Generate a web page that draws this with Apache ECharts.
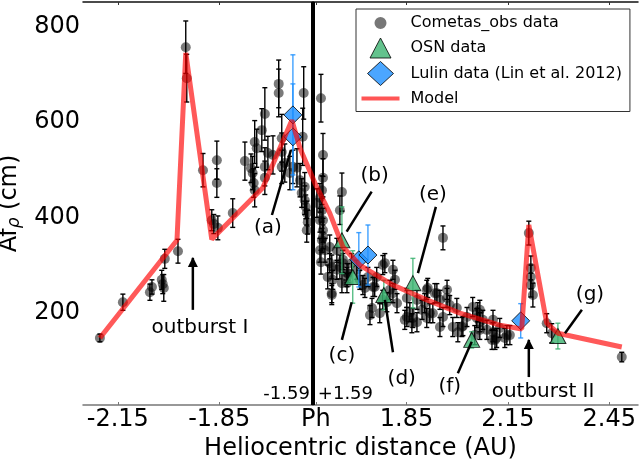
<!DOCTYPE html>
<html>
<head>
<meta charset="utf-8">
<script src="https://cdn.jsdelivr.net/npm/echarts@6/dist/echarts.min.js"></script>
<style>
html, body { margin: 0; padding: 0; background: #fff; }
#chart { width: 639px; height: 467px; }
</style>
</head>
<body>
<div id="chart"></div>
<script>
// folded axis: pre-perihelion on the left (negative), post-perihelion on the right
const R_FOLD = 1.573; // 1.59 AU minus half of the gap around the perihelion line

const xTickLabels = ['-2.15', '-1.85', 'Ph', '1.85', '2.15', '2.45'];
const yTickValues = [200, 400, 600, 800];

// [signed heliocentric distance (AU), Afrho (cm), error]
const cometasObs = [
  [-2.203, 147, 8], [-2.135, 222, 17], [-2.055, 243, 17], [-2.049, 254, 15], [-2.020, 269, 20],
  [-2.017, 260, 20], [-2.014, 252, 28], [-2.011, 313, 20], [-1.972, 329, 25], [-1.949, 757, 55],
  [-1.946, 692, 50], [-1.898, 499, 35], [-1.857, 520, 40], [-1.857, 472, 30], [-1.872, 394, 22],
  [-1.866, 386, 20], [-1.854, 378, 25], [-1.810, 409, 30], [-1.774, 518, 40], [-1.756, 503, 30],
  [-1.751, 493, 35], [-1.748, 472, 30], [-1.745, 558, 45], [-1.745, 457, 35], [-1.739, 545, 40],
  [-1.724, 583, 45], [-1.715, 617, 55], [-1.715, 506, 40], [-1.715, 483, 35], [-1.706, 535, 35],
  [-1.691, 531, 40], [-1.674, 680, 50], [-1.674, 661, 50], [-1.665, 566, 50], [-1.665, 537, 40],
  [-1.665, 506, 35], [-1.656, 514, 40], [-1.641, 493, 35], [-1.632, 506, 35], [-1.620, 504, 40],
  [-1.611, 478, 35], [-1.606, 451, 30], [-1.603, 569, 60], [-1.600, 661, 55], [-1.597, 464, 30],
  [-1.597, 436, 30], [-1.594, 422, 25], [-1.591, 409, 25], [-1.588, 390, 25], [-1.591, 373, 25],
  [1.597, 650, 50], [1.603, 531, 45], [1.603, 483, 40], [1.585, 430, 30], [1.600, 457, 30],
  [1.594, 441, 30], [1.600, 415, 25], [1.594, 394, 25], [1.603, 394, 25], [1.603, 373, 25],
  [1.603, 359, 25], [1.600, 352, 25], [1.594, 331, 25], [1.609, 331, 25], [1.597, 306, 25],
  [1.623, 338, 25], [1.623, 304, 20], [1.629, 296, 25], [1.617, 275, 25], [1.632, 269, 20],
  [1.629, 241, 20], [1.629, 237, 20], [1.644, 331, 25], [1.644, 290, 20], [1.653, 296, 25],
  [1.653, 415, 30], [1.659, 453, 40], [1.659, 262, 20], [1.662, 304, 20], [1.662, 311, 20],
  [1.674, 275, 20], [1.674, 283, 20], [1.674, 262, 20], [1.677, 283, 20], [1.688, 304, 20],
  [1.703, 290, 20], [1.712, 269, 20], [1.721, 258, 20], [1.727, 252, 20], [1.736, 275, 20],
  [1.742, 195, 20], [1.748, 210, 20], [1.751, 254, 20], [1.756, 254, 20], [1.762, 275, 20],
  [1.771, 199, 20], [1.780, 300, 20], [1.780, 227, 20], [1.786, 304, 20], [1.792, 222, 20],
  [1.801, 248, 20], [1.810, 290, 20], [1.810, 241, 20], [1.816, 269, 20], [1.822, 220, 20],
  [1.845, 185, 20], [1.851, 231, 20], [1.851, 191, 20], [1.860, 201, 20], [1.866, 178, 20],
  [1.869, 189, 20], [1.881, 227, 20], [1.881, 180, 20], [1.896, 206, 20], [1.904, 220, 20],
  [1.910, 248, 20], [1.910, 189, 20], [1.913, 252, 20], [1.919, 199, 20], [1.928, 199, 20],
  [1.934, 241, 20], [1.940, 241, 20], [1.949, 227, 20], [1.949, 170, 20], [1.958, 357, 25],
  [1.958, 191, 20], [1.970, 248, 20], [1.970, 231, 20], [1.978, 216, 20], [1.987, 170, 20],
  [1.999, 210, 20], [2.002, 159, 20], [2.014, 170, 20], [2.017, 172, 20], [2.029, 191, 20],
  [2.046, 212, 20], [2.052, 153, 20], [2.058, 189, 20], [2.061, 201, 20], [2.067, 206, 20],
  [2.067, 180, 20], [2.067, 164, 20], [2.076, 185, 20], [2.088, 164, 20], [2.103, 143, 20],
  [2.106, 185, 20], [2.106, 159, 20], [2.112, 143, 20], [2.117, 147, 20], [2.126, 168, 20],
  [2.141, 147, 20], [2.147, 153, 20], [2.156, 153, 20],
  [2.212, 367, 25], [2.218, 294, 25], [2.218, 275, 25], [2.218, 258, 25], [2.224, 237, 25],
  [2.265, 178, 20], [2.280, 157, 20], [2.487, 107, 10]
];

const osnData = [
  [1.659, 352, 70], [1.691, 275, 55], [1.783, 237, 31], [1.869, 262, 52], [2.043, 143, 17], [2.298, 151, 27]
];

const lulinData = [
  [-1.632, 615, 126], [-1.632, 569, 111], [1.709, 311, 57], [1.736, 321, 63], [2.188, 183, 36]
];

const modelCurve = [
  [-2.203, 147], [-1.975, 352], [-1.949, 745], [-1.872, 354], [-1.721, 462], [-1.635, 604],
  [-1.611, 545], [1.579, 472], [1.623, 409], [1.662, 338], [1.712, 300], [1.810, 258],
  [1.910, 227], [2.008, 199], [2.126, 174], [2.191, 166], [2.212, 384], [2.265, 178],
  [2.298, 157], [2.487, 128]
];

// annotations: text centre, pointer start, pointer end
const letterNotes = [
  { text: '(a)', at: [-1.706, 378], from: [-1.694, 405], to: [-1.638, 541] },
  { text: '(b)', at: [1.756, 487], from: [1.747, 454], to: [1.673, 370] },
  { text: '(c)', at: [1.659, 109], from: [1.659, 143], to: [1.688, 222] },
  { text: '(d)', at: [1.836, 61], from: [1.810, 117], to: [1.786, 227] },
  { text: '(e)', at: [1.928, 447], from: [1.937, 422], to: [1.884, 283] },
  { text: '(f)', at: [1.978, 44], from: [2.002, 73], to: [2.043, 139] },
  { text: '(g)', at: [2.393, 237], from: [2.369, 206], to: [2.319, 157] }
];
const outburstNotes = [
  { text: 'outburst I', at: [-1.907, 168], from: [-1.928, 206], to: [-1.928, 315] },
  { text: 'outburst II', at: [2.254, 34], from: [2.212, 65], to: [2.212, 143] }
];

const X_MIN = -0.680, X_MAX = 0.962;
const Y_MIN = 6.4, Y_MAX = 851.8;
const FONT = 'DejaVu Sans';

function toU(r) {
  if (r === 0) return 0;
  return Math.sign(r) * (Math.abs(r) - R_FOLD);
}
function tickU(label) {
  if (label === 'Ph') return 0.009;
  return toU(parseFloat(label));
}
const xTickValues = xTickLabels.map(tickU);

function pts(arr) { return arr.map(d => [toU(d[0]), d[1]]); }
function bars(arr) { return arr.map(d => [toU(d[0]), d[1] - d[2], d[1] + d[2]]); }

function errRender(color) {
  return function (params, api) {
    const p1 = api.coord([api.value(0), api.value(1)]);
    const p2 = api.coord([api.value(0), api.value(2)]);
    const cap = 2.5;
    const style = { stroke: color, lineWidth: 1.4, fill: null };
    return {
      type: 'group',
      children: [
        { type: 'line', shape: { x1: p1[0], y1: p1[1], x2: p2[0], y2: p2[1] }, style: style },
        { type: 'line', shape: { x1: p1[0] - cap, y1: p1[1], x2: p1[0] + cap, y2: p1[1] }, style: style },
        { type: 'line', shape: { x1: p2[0] - cap, y1: p2[1], x2: p2[0] + cap, y2: p2[1] }, style: style }
      ]
    };
  };
}

const BOX = 'path://M0,0M45,24';
const icons = {
  circle: BOX + 'M20,6a6,6 0 1,1 -0.01,0z',
  triangle: BOX + 'M20,2L30.5,22L9.5,22Z',
  diamond: BOX + 'M20,0L33,12L20,24L7,12Z',
  line: BOX + 'M1,10h38v4h-38z'
};

const GRAY = 'rgba(0,0,0,0.65)';
const GREEN = '#3cb371';
const BLUE = '#1e90ff';
const RED = 'rgba(255,0,0,0.65)';

const chart = echarts.init(document.getElementById('chart'));

const option = {
  animation: false,
  textStyle: { fontFamily: FONT },
  grid: { left: 83, right: 1, top: 2, bottom: 62, containLabel: false, outerBoundsMode: 'none' },
  legend: {
    orient: 'vertical',
    left: 356,
    top: 9,
    padding: [2, 8, 1, 4],
    itemGap: 0.5,
    itemWidth: 45,
    itemHeight: 24,
    borderColor: '#333',
    borderWidth: 1,
    selectedMode: false,
    textStyle: { fontFamily: FONT, fontSize: 16, color: '#000' },
    data: [
      { name: 'Cometas_obs data', icon: icons.circle, itemStyle: { color: '#555', borderWidth: 0 } },
      { name: 'OSN data', icon: icons.triangle, itemStyle: { color: GREEN, borderColor: '#000', borderWidth: 1 } },
      { name: 'Lulin data (Lin et al. 2012)', icon: icons.diamond, itemStyle: { color: BLUE, borderColor: '#000', borderWidth: 1 } },
      { name: 'Model', icon: icons.line, itemStyle: { color: '#ff5555', borderWidth: 0 } }
    ]
  },
  xAxis: [
    {
      type: 'value',
      min: X_MIN,
      max: X_MAX,
      name: 'Heliocentric distance (AU)',
      nameLocation: 'middle',
      nameGap: 28,
      nameTextStyle: { fontFamily: FONT, fontSize: 24, color: '#000' },
      axisLine: { lineStyle: { color: '#777', width: 1.5 } },
      axisTick: { inside: true, length: 3, customValues: xTickValues, lineStyle: { color: '#777' } },
      axisLabel: {
        customValues: xTickValues,
        margin: 3,
        fontFamily: FONT,
        fontSize: 24,
        color: '#000',
        formatter: function (v) {
          const i = xTickValues.findIndex(t => Math.abs(t - v) < 1e-6);
          return i >= 0 ? xTickLabels[i] : '';
        }
      },
      splitLine: { show: false }
    },
    {
      type: 'value',
      position: 'top',
      min: X_MIN,
      max: X_MAX,
      axisLine: { lineStyle: { color: '#111', width: 1.5 } },
      axisTick: { inside: true, length: 3, customValues: xTickValues, lineStyle: { color: '#333' } },
      axisLabel: { show: false },
      splitLine: { show: false }
    }
  ],
  yAxis: [
    {
      type: 'value',
      min: Y_MIN,
      max: Y_MAX,
      name: '{a|Af}{s|\u03c1}{a| (cm)}',
      nameLocation: 'middle',
      nameGap: 48,
      nameTextStyle: {
        rich: {
          a: { fontFamily: FONT, fontSize: 24, color: '#000' },
          s: { fontFamily: FONT, fontSize: 17, fontStyle: 'italic', color: '#000', padding: [10, 0, 0, 0] }
        }
      },
      axisLine: { show: true, lineStyle: { color: '#777', width: 1.5 } },
      axisTick: { show: false },
      axisLabel: { customValues: yTickValues, margin: 3, fontFamily: FONT, fontSize: 24, color: '#000' },
      splitLine: { show: false }
    },
    {
      type: 'value',
      position: 'right',
      min: Y_MIN,
      max: Y_MAX,
      axisLine: { show: true, lineStyle: { color: '#111', width: 1.5 } },
      axisTick: { show: false },
      axisLabel: { show: false },
      splitLine: { show: false }
    }
  ],
  series: [
    {
      name: 'Cometas_obs err',
      type: 'custom',
      renderItem: errRender('#000'),
      encode: { x: 0, y: [1, 2] },
      data: bars(cometasObs),
      z: 2,
      silent: true
    },
    {
      name: 'Cometas_obs data',
      type: 'scatter',
      symbol: 'circle',
      symbolSize: 10,
      itemStyle: { color: GRAY },
      data: pts(cometasObs),
      z: 3,
      markLine: {
        silent: true,
        symbol: 'none',
        label: { show: false },
        lineStyle: { color: '#000', width: 4, type: 'solid' },
        data: [{ xAxis: 0 }]
      }
    },
    {
      name: 'OSN err',
      type: 'custom',
      renderItem: errRender('rgba(60,179,113,0.85)'),
      encode: { x: 0, y: [1, 2] },
      data: bars(osnData),
      z: 4,
      silent: true
    },
    {
      name: 'OSN data',
      type: 'scatter',
      symbol: 'triangle',
      symbolSize: [16, 15],
      itemStyle: { color: GREEN, borderColor: '#000', borderWidth: 1 },
      data: pts(osnData),
      z: 5
    },
    {
      name: 'Lulin err',
      type: 'custom',
      renderItem: errRender('rgba(30,144,255,0.85)'),
      encode: { x: 0, y: [1, 2] },
      data: bars(lulinData),
      z: 6,
      silent: true
    },
    {
      name: 'Lulin data (Lin et al. 2012)',
      type: 'scatter',
      symbol: 'diamond',
      symbolSize: 18,
      itemStyle: { color: BLUE, borderColor: '#000', borderWidth: 1 },
      data: pts(lulinData),
      z: 7
    },
    {
      name: 'Model',
      type: 'line',
      showSymbol: false,
      symbol: 'none',
      lineStyle: { color: RED, width: 5 },
      itemStyle: { color: RED },
      data: pts(modelCurve),
      z: 8
    }
  ]
};

chart.setOption(option);

// annotation texts and pointers, placed from data coordinates
function px(p) { return chart.convertToPixel({ xAxisIndex: 0, yAxisIndex: 0 }, [toU(p[0]), p[1]]); }

const graphics = [];
letterNotes.concat(outburstNotes).forEach(function (n) {
  const c = px(n.at);
  graphics.push({
    type: 'text', x: c[0], y: c[1], z: 20,
    style: { text: n.text, fontFamily: FONT, fontSize: 20, fill: '#000', align: 'center', verticalAlign: 'middle' }
  });
  const a = px(n.from), b = px(n.to);
  graphics.push({
    type: 'line', z: 20,
    shape: { x1: a[0], y1: a[1], x2: b[0], y2: b[1] },
    style: { stroke: '#000', lineWidth: 2.5 }
  });
});
outburstNotes.forEach(function (n) {
  const b = px(n.to);
  graphics.push({
    type: 'polygon', z: 20,
    shape: { points: [[b[0], b[1] - 1], [b[0] - 5, b[1] + 9], [b[0] + 5, b[1] + 9]] },
    style: { fill: '#000' }
  });
});
const base = chart.convertToPixel({ xAxisIndex: 0, yAxisIndex: 0 }, [0, Y_MIN]);
graphics.push({
  type: 'text', x: base[0] - 3, y: base[1] - 11, z: 20,
  style: { text: '-1.59', fontFamily: FONT, fontSize: 18, fill: '#000', align: 'right', verticalAlign: 'middle' }
});
graphics.push({
  type: 'text', x: base[0] + 5, y: base[1] - 11, z: 20,
  style: { text: '+1.59', fontFamily: FONT, fontSize: 18, fill: '#000', align: 'left', verticalAlign: 'middle' }
});
chart.setOption({ graphic: graphics });
</script>
</body>
</html>
